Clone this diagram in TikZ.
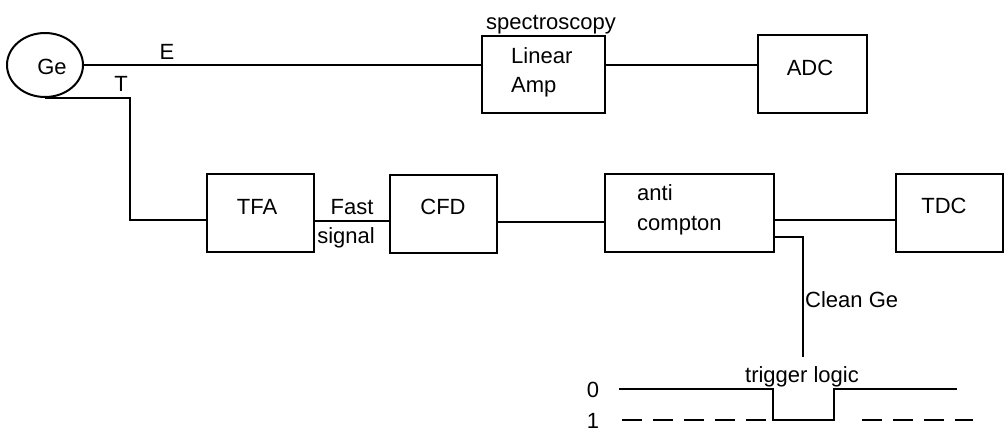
\documentclass[tikz,border=0pt]{standalone}
\usepackage{fontspec}
\setmainfont{Liberation Sans}
\usetikzlibrary{shapes.geometric,calc}
\begin{document}
\begin{tikzpicture}[x=1pt,y=-1pt,
  box/.style={draw, rectangle, line width=2pt, inner sep=0pt, minimum height=78pt},
  wire/.style={line width=2pt},
  lbl/.style={font=\fontsize{22}{26}\selectfont, inner sep=0pt, anchor=base},
  lbll/.style={lbl, anchor=base west},
  dashwire/.style={wire, dash pattern=on 20pt off 11pt}
]
\useasboundingbox[fill=white] (0,0) rectangle (1008,437);
% detector
\node[draw, ellipse, line width=2pt, minimum width=76pt, minimum height=64pt, inner sep=0pt] (ge) at (45,65) {};
\node[lbl] (getxt) at (52,74) {Ge};
% boxes
\node[box, minimum width=123pt, minimum height=77pt] (lin) at (543.5,74.5) {};
\node[box, minimum width=109pt] (adc) at (812.5,74) {};
\node[box, minimum width=107pt] (tfa) at (260.5,213) {};
\node[box, minimum width=107pt] (cfd) at (443.5,214) {};
\node[box, minimum width=169pt] (ac) at (689.5,213) {};
\node[box, minimum width=107pt] (tdc) at (949.5,212.5) {};
% box texts
\node[lbl] (spec) at (551,29) {spectroscopy};
\node[lbll] (lin1) at (511,63) {Linear};
\node[lbll] (lin2) at (511,92) {Amp};
\node[lbl] (adct) at (810,75) {ADC};
\node[lbl] (tfat) at (257,214) {TFA};
\node[lbl] (cfdt) at (443,214) {CFD};
\node[lbll] (ac1) at (637,200) {anti};
\node[lbll] (ac2) at (637,230) {compton};
\node[lbl] (tdct) at (944,213) {TDC};
% wire labels
\node[lbl] (et) at (167,59) {E};
\node[lbl] (tt) at (121,91) {T};
\node[lbl] (fast) at (352,214) {Fast};
\node[lbl] (sig) at (346,243) {signal};
\node[lbll] (clean) at (805,307) {Clean Ge};
\node[lbl] (trig) at (802,382) {trigger logic};
\node[lbl] (zero) at (593,397) {0};
\node[lbl] (one) at (593,428) {1};
% wires
\draw[wire] (ge.east) -- (ge.east -| lin.west);
\draw[wire] (lin.east |- ge.east) -- (adc.west |- ge.east);
\draw[wire] (ge.south) -- ++(85,0) |- ([yshift=-7pt]tfa.west);
\draw[wire] ([yshift=-8pt]tfa.east) -- ([yshift=-8pt]tfa.east -| cfd.west);
\draw[wire] ([yshift=-8pt]cfd.east) -- ([yshift=-8pt]cfd.east -| ac.west);
\draw[wire] ([yshift=-7pt]ac.east) -- ([yshift=-7pt]ac.east -| tdc.west);
\coordinate (cge) at (803,357);
\draw[wire] ([yshift=-24pt]ac.east) -| (cge);
% trigger waveform
\coordinate (s0) at (619,389);
\coordinate (s1) at (773,389);
\coordinate (s2) at (773,420);
\coordinate (s3) at (834,420);
\coordinate (s4) at (834,389);
\coordinate (s5) at (957,389);
\draw[wire] (s0) -- (s1) -- (s2) -- (s3) -- (s4) -- (s5);
\coordinate (d0) at (622,420);
\coordinate (d1) at (862,420);
\coordinate (d2) at (973,420);
\draw[dashwire] (d0) -- (s2);
\draw[dashwire] (d1) -- (d2);
\end{tikzpicture}
\end{document}
